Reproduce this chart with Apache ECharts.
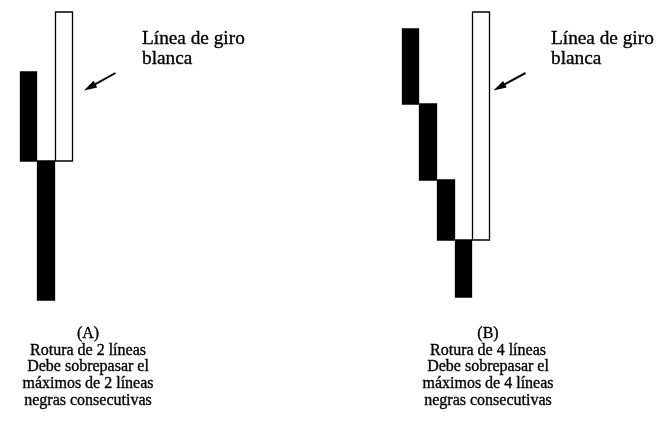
<!DOCTYPE html>
<html>
<head>
<meta charset="utf-8">
<script src="https://cdn.jsdelivr.net/npm/echarts@6/dist/echarts.min.js"></script>
<style>html,body{margin:0;padding:0;background:#fff}#c{width:658px;height:423px}</style>
</head>
<body>
<div id="c"></div>
<script>
// Panel A: rotura de 2 líneas
const catsA = ['1', '2', '3'];
const highA = [238, 149, 298];
const lowA  = [149, 10, 149];
const dirA  = ['negra', 'negra', 'blanca'];

// Panel B: rotura de 4 líneas
const catsB = ['1', '2', '3', '4', '5'];
const highB = [281, 206, 130, 70, 298];
const lowB  = [206, 130, 70, 13, 70];
const dirB  = ['negra', 'negra', 'negra', 'negra', 'blanca'];

const labelTurn = ['Línea de giro', 'blanca'];
const captionA = ['(A)', 'Rotura de 2 líneas', 'Debe sobrepasar el', 'máximos de 2 líneas', 'negras consecutivas'];
const captionB = ['(B)', 'Rotura de 4 líneas', 'Debe sobrepasar el', 'máximos de 4 líneas', 'negras consecutivas'];

function toCandles(high, low, dir) {
  return high.map((h, i) => dir[i] === 'blanca'
    ? [low[i], h, low[i], h]
    : [h, low[i], low[i], h]);
}

const FONT = '"Liberation Serif", "DejaVu Serif", serif';
const INK = '#000';

function arrow(tx, ty, fx, fy) {
  const dx = tx - fx, dy = ty - fy;
  const L = Math.sqrt(dx * dx + dy * dy);
  const ux = dx / L, uy = dy / L;
  const hl = 13, hw = 3.8;
  const bx = tx - ux * hl, by = ty - uy * hl;
  return [
    { type: 'line', shape: { x1: fx, y1: fy, x2: bx + ux * 2, y2: by + uy * 2 }, style: { stroke: INK, lineWidth: 2 } },
    { type: 'polygon', shape: { points: [[tx, ty], [bx - uy * hw, by + ux * hw], [bx + uy * hw, by - ux * hw]] }, style: { fill: INK } }
  ];
}

function txt(t, x, y, size, align, valign) {
  return {
    type: 'text', x: x, y: y,
    style: { text: t, fill: INK, stroke: INK, lineWidth: 0.35, font: size + 'px ' + FONT, textAlign: align, textVerticalAlign: valign }
  };
}

function caption(lines, cx, y0, lh, size) {
  return lines.map((t, i) => txt(t, cx, y0 + i * lh, size, 'center', 'middle'));
}

const chart = echarts.init(document.getElementById('c'));
chart.setOption({
  animation: false,
  backgroundColor: '#fff',
  grid: [
    { left: 19.5, width: 53.5, top: 10, height: 300 },
    { left: 401.7, width: 88.3, top: 10, height: 300 }
  ],
  xAxis: [
    { type: 'category', gridIndex: 0, data: catsA, show: false },
    { type: 'category', gridIndex: 1, data: catsB, show: false }
  ],
  yAxis: [
    { type: 'value', gridIndex: 0, min: 0, max: 300, show: false },
    { type: 'value', gridIndex: 1, min: 0, max: 300, show: false }
  ],
  series: [
    {
      type: 'candlestick', xAxisIndex: 0, yAxisIndex: 0, barWidth: '96%',
      data: toCandles(highA, lowA, dirA),
      itemStyle: { color: '#fff', color0: INK, borderColor: INK, borderColor0: INK, borderWidth: 1.3 }
    },
    {
      type: 'candlestick', xAxisIndex: 1, yAxisIndex: 1, barWidth: '96%',
      data: toCandles(highB, lowB, dirB),
      itemStyle: { color: '#fff', color0: INK, borderColor: INK, borderColor0: INK, borderWidth: 1.3 }
    }
  ],
  graphic: [].concat(
    arrow(84, 90.5, 115.5, 73),
    arrow(493.5, 90.5, 525.5, 73),
    [
      txt(labelTurn[0], 142, 48, 19.3, 'left', 'bottom'),
      txt(labelTurn[1], 142, 68.5, 19.3, 'left', 'bottom'),
      txt(labelTurn[0], 551, 48, 19.3, 'left', 'bottom'),
      txt(labelTurn[1], 551, 68.5, 19.3, 'left', 'bottom')
    ],
    caption(captionA, 88, 334, 16.6, 16),
    caption(captionB, 488, 334, 16.6, 16)
  )
});
</script>
</body>
</html>
